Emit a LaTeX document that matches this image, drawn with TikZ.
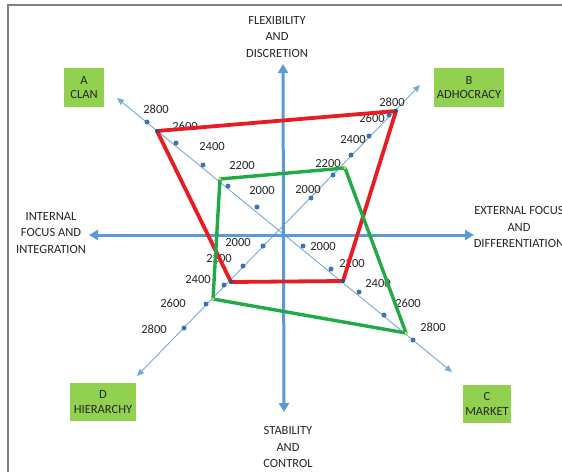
\documentclass[tikz,border=0pt]{standalone}
\usepackage{fontspec}
\setmainfont{Carlito}
\usetikzlibrary{arrows.meta}
\definecolor{axblue}{RGB}{91,155,213}
\definecolor{tkblue}{RGB}{62,114,182}
\definecolor{boxgreen}{RGB}{146,208,80}
\definecolor{polyred}{RGB}{232,28,36}
\definecolor{polygreen}{RGB}{34,170,72}
\definecolor{framegray}{RGB}{128,128,128}
\begin{document}
\begin{tikzpicture}[x=1pt,y=-1pt,
        font=\fontsize{12.5}{16.5}\selectfont,
        ax/.style={draw=axblue, line width=3pt,
                {Triangle[length=9pt,width=10pt]}-{Triangle[length=9pt,width=10pt]}},
        dg/.style={draw=axblue!85, line width=0.9pt,
                {Triangle[length=7pt,width=6pt]}-{Triangle[length=7pt,width=6pt]}},
        tk/.style={circle, fill=tkblue, inner sep=0pt, minimum width=5pt},
        num/.style={inner sep=0pt, text=black!85},
        lb/.style={align=center, inner sep=0pt, text=black!85},
        box/.style={fill=boxgreen, align=center, inner sep=0pt, text=black!85,
                minimum height=39pt, font=\fontsize{12.5}{14.5}\selectfont},
        poly/.style={line width=3.8pt, line join=round}]
    \useasboundingbox (0,0) rectangle (562,472);
    \draw[framegray, line width=1.5pt] (8,472) -- (8,5) -- (562,5);
    \coordinate (top) at (283,64);
    \coordinate (bot) at (284,412);
    \coordinate (lft) at (89,235);
    \coordinate (rgt) at (474,235);
    \coordinate (nw) at (117,98);
    \coordinate (se) at (452,372);
    \coordinate (ne) at (420,85);
    \coordinate (sw) at (137,376);
    \draw[dg] (nw) -- (se);
    \draw[dg] (ne) -- (sw);
    \draw[ax] (lft) -- (rgt);
    \draw[ax] (top) -- (bot);
    \foreach \n/\x/\y/\lx/\ly/\v in {
            nwa/257/207/262/190/2000, nwb/228/186/242/165/2200,
            nwc/203/165/212/146/2400, nwd/176/143/185/126/2600,
            nwe/147/122/156/109/2800,
            nea/311/198/308/189/2000, neb/333/175/328/163/2200,
            nec/351/155/353/139/2400, ned/369/136/372/118/2600,
            nee/389/115/392/102/2800,
            swa/263/246/238/242/2000, swb/243/266/219/258/2200,
            swc/224/285/198/279/2400, swd/206/304/173/303/2600,
            swe/184/328/154/329/2800,
            sea/303/246/323/246/2000, seb/331/269/352/263/2200,
            sec/359/292/378/283/2400, sed/384/315/408/303/2600,
            see/413/340/433/327/2800}{
        \node[tk] (\n) at (\x,\y) {};
        \node[num] (\n l) at (\lx,\ly) {\v};
    }
    \node[lb] (flex) at (277,37) {FLEXIBILITY\\AND\\DISCRETION};
    \node[lb] (stab) at (288,447) {STABILITY\\AND\\CONTROL};
    \node[lb] (intl) at (51,233) {INTERNAL\\FOCUS AND\\INTEGRATION};
    \node[lb] (extl) at (519,227) {EXTERNAL FOCUS\\AND\\DIFFERENTIATION};
    \node[box, minimum width=40pt] (clan) at (84,87.5) {A\\CLAN};
    \node[box, minimum width=70pt] (adho) at (469,87.5) {B\\ADHOCRACY};
    \node[box, minimum width=48pt, minimum height=38pt] (mark) at (487,404) {C\\MARKET};
    \node[box, minimum width=66pt, minimum height=38pt] (hier) at (103,402) {D\\HIERARCHY};
    \coordinate (ra) at (157,131);
    \coordinate (rb) at (396,111);
    \coordinate (rc) at (343,281);
    \coordinate (rd) at (231,282);
    \coordinate (ga) at (220,179);
    \coordinate (gb) at (345,168);
    \coordinate (gc) at (406,333);
    \coordinate (gd) at (213,299);
    \draw[poly, polyred] (ra) -- (rb) -- (rc) -- (rd) -- cycle;
    \draw[poly, polygreen, line width=3.4pt] (ga) -- (gb) -- (gc) -- (gd) -- cycle;
    \foreach \c in {ra,rb,rc,rd} \fill[tkblue!70!black] (\c) circle (2pt);
    \foreach \c in {ga,gb,gc,gd} \fill[yellow!60!green!70] (\c) circle (1.6pt);
\end{tikzpicture}
\end{document}
